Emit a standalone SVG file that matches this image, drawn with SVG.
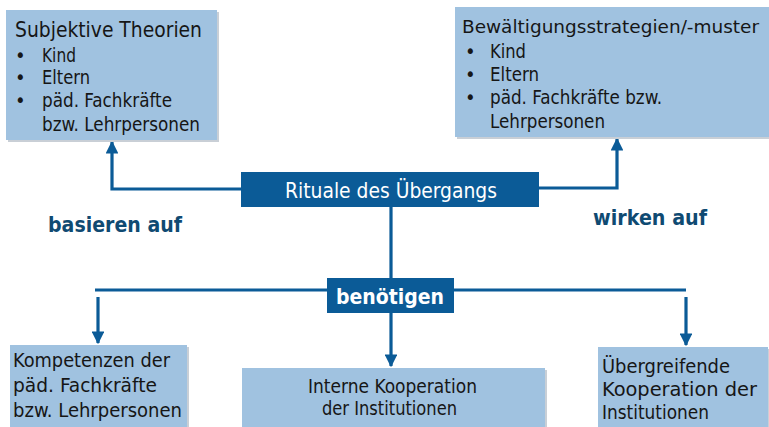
<svg xmlns="http://www.w3.org/2000/svg" width="769" height="427" viewBox="0 0 769 427">
<style>
.box{fill:#a0c2e0;}
.shadow{fill:#c9cfd6;}
.dark{fill:#0b5b97;}
.t{font-family:"DejaVu Sans Condensed","DejaVu Sans",sans-serif;font-stretch:condensed;fill:#161616;font-size:20px;}
.title{font-size:22px;}
.title2{font-size:18.5px;}
.w{fill:#ffffff;font-size:21px;}
.b{font-weight:bold;font-size:21.5px;}
.lbl{font-family:"DejaVu Sans",sans-serif;font-weight:bold;fill:#0f4a72;font-size:21px;}
.line{stroke:#0b5b97;stroke-width:3.2;fill:none;}
</style>
<defs>
<marker id="arr" viewBox="0 0 10 10" refX="9" refY="5" markerWidth="4" markerHeight="4" markerUnits="strokeWidth" orient="auto">
<path d="M0,0 L10,5 L0,10 z" fill="#0b5b97"/>
</marker>
</defs>
<rect width="769" height="427" fill="#ffffff"/>

<g id="connectors">
<polyline class="line" points="241,189 112,189 112,142" marker-end="url(#arr)"/>
<polyline class="line" points="539,188 617,188 617,139" marker-end="url(#arr)"/>
<line class="line" x1="391" y1="207" x2="391" y2="278"/>
<line class="line" x1="95" y1="290" x2="686" y2="290"/>
<line class="line" x1="98" y1="297" x2="98" y2="343" marker-end="url(#arr)"/>
<line class="line" x1="686" y1="297" x2="686" y2="345" marker-end="url(#arr)"/>
<line class="line" x1="391" y1="313" x2="391" y2="366" marker-end="url(#arr)"/>
</g>

<g id="subjektive">
<rect class="shadow" x="8" y="12" width="211" height="130"/>
<rect class="box" x="6" y="10" width="211" height="130"/>
<text class="t title" x="15" y="37" textLength="187" lengthAdjust="spacingAndGlyphs">Subjektive Theorien</text>
<text class="t" x="15" y="62">•</text>
<text class="t" x="42" y="62" textLength="34" lengthAdjust="spacingAndGlyphs">Kind</text>
<text class="t" x="15" y="84">•</text>
<text class="t" x="42" y="84" textLength="48" lengthAdjust="spacingAndGlyphs">Eltern</text>
<text class="t" x="15" y="107">•</text>
<text class="t" x="42" y="107" textLength="130" lengthAdjust="spacingAndGlyphs">päd. Fachkräfte</text>
<text class="t" x="42" y="131" textLength="158" lengthAdjust="spacingAndGlyphs">bzw. Lehrpersonen</text>
</g>

<g id="bewaeltigung">
<rect class="shadow" x="457" y="9" width="312" height="130"/>
<rect class="box" x="455" y="7" width="314" height="130"/>
<text class="t title2" x="462" y="33" textLength="297" lengthAdjust="spacingAndGlyphs">Bewältigungsstrategien/-muster</text>
<text class="t" x="465" y="58">•</text>
<text class="t" x="490" y="58" textLength="36" lengthAdjust="spacingAndGlyphs">Kind</text>
<text class="t" x="465" y="81">•</text>
<text class="t" x="490" y="81" textLength="49" lengthAdjust="spacingAndGlyphs">Eltern</text>
<text class="t" x="465" y="104">•</text>
<text class="t" x="490" y="104" textLength="172" lengthAdjust="spacingAndGlyphs">päd. Fachkräfte bzw.</text>
<text class="t" x="490" y="128" textLength="115" lengthAdjust="spacingAndGlyphs">Lehrpersonen</text>
</g>

<g id="rituale">
<rect class="dark" x="241" y="172" width="298" height="35"/>
<text class="t w" x="285" y="198" textLength="212" lengthAdjust="spacingAndGlyphs">Rituale des Übergangs</text>
</g>

<g id="label-basieren">
<text class="lbl" x="48" y="232" textLength="134" lengthAdjust="spacingAndGlyphs">basieren auf</text>
</g>
<g id="label-wirken">
<text class="lbl" x="593" y="225" textLength="114" lengthAdjust="spacingAndGlyphs">wirken auf</text>
</g>

<g id="benoetigen">
<rect class="dark" x="327" y="278" width="127" height="35"/>
<text class="t w b" x="336" y="304" textLength="108" lengthAdjust="spacingAndGlyphs">benötigen</text>
</g>

<g id="kompetenzen">
<rect class="shadow" x="12" y="347" width="177" height="80"/>
<rect class="box" x="10" y="345" width="177" height="82"/>
<text class="t" x="13" y="367" textLength="157" lengthAdjust="spacingAndGlyphs">Kompetenzen der</text>
<text class="t" x="13" y="392" textLength="144" lengthAdjust="spacingAndGlyphs">päd. Fachkräfte</text>
<text class="t" x="13" y="417" textLength="169" lengthAdjust="spacingAndGlyphs">bzw. Lehrpersonen</text>
</g>

<g id="interne">
<rect class="shadow" x="244" y="370" width="303" height="57"/>
<rect class="box" x="242" y="368" width="303" height="59"/>
<text class="t" x="308" y="393" textLength="169" lengthAdjust="spacingAndGlyphs">Interne Kooperation</text>
<text class="t" x="322" y="415" textLength="135" lengthAdjust="spacingAndGlyphs">der Institutionen</text>
</g>

<g id="uebergreifende">
<rect class="shadow" x="600" y="349" width="169" height="78"/>
<rect class="box" x="598" y="347" width="170" height="80"/>
<text class="t" x="602" y="373" textLength="128" lengthAdjust="spacingAndGlyphs">Übergreifende</text>
<text class="t" x="602" y="396" textLength="155" lengthAdjust="spacingAndGlyphs">Kooperation der</text>
<text class="t" x="602" y="419" textLength="107" lengthAdjust="spacingAndGlyphs">Institutionen</text>
</g>
</svg>
